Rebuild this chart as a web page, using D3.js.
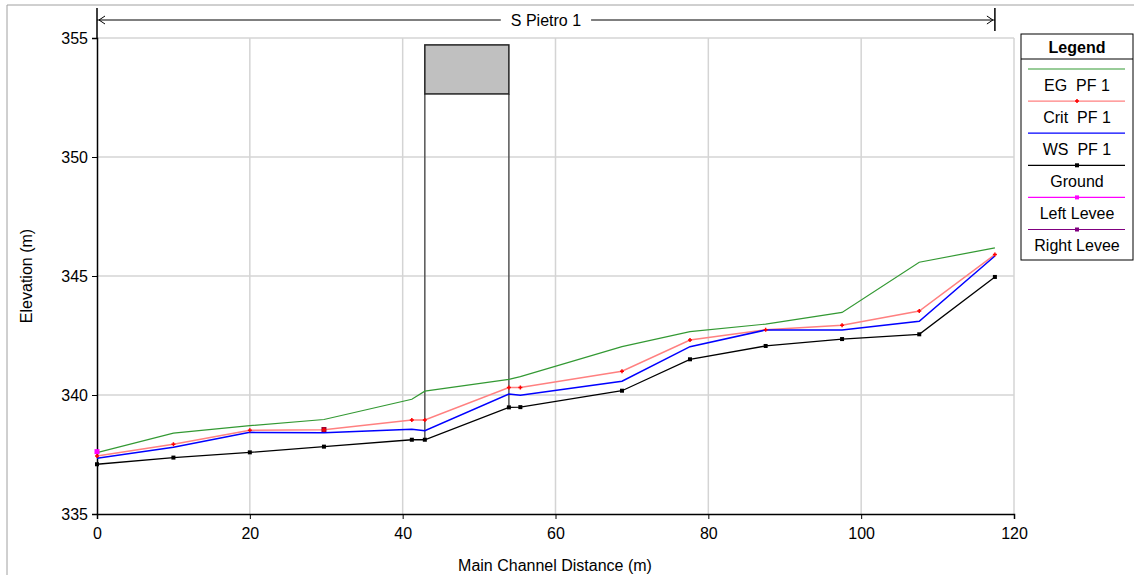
<!DOCTYPE html>
<html>
<head>
<meta charset="utf-8">
<script src="https://cdn.jsdelivr.net/npm/d3@7"></script>
<style>
  html, body { margin: 0; padding: 0; background: #fff; }
  svg { display: block; font-family: "Liberation Sans", Arial, sans-serif; }
  svg text { white-space: pre; }
</style>
</head>
<body>
<svg id="chart" width="1134" height="575"></svg>
<script>
// ---- data ----
const stations = [0, 10, 20, 29.7, 41.2, 42.9, 53.9, 55.4, 68.7, 77.6, 87.5, 97.5, 107.6, 117.5];
const ground   = [337.09, 337.37, 337.59, 337.83, 338.12, 338.12, 339.48, 339.49, 340.18, 341.50, 342.06, 342.35, 342.55, 344.96];
const wsPF1    = [337.34, 337.80, 338.43, 338.41, 338.56, 338.50, 340.04, 339.99, 340.58, 342.03, 342.73, 342.73, 343.10, 345.84];
const critPF1  = [337.44, 337.93, 338.52, 338.54, 338.95, 338.95, 340.31, 340.32, 341.00, 342.31, 342.74, 342.93, 343.53, 345.90];
const egPF1    = [337.58, 338.40, 338.71, 338.97, 339.82, 340.16, 340.66, 340.77, 342.03, 342.66, 342.98, 343.47, 345.58, 346.18];
const leftLevee  = [[0, 337.62]];
const rightLevee = [[29.7, 338.55]];
const bridgeStations = [42.9, 53.9];
const bridgeDeck = [352.65, 354.71];
const reachName = "S Pietro 1";
const reachStart = 0, reachEnd = 117.5;
const xTicks = [0, 20, 40, 60, 80, 100, 120];
const yTicks = [335, 340, 345, 350, 355];
const legendLabels = ["EG  PF 1", "Crit  PF 1", "WS  PF 1", "Ground", "Left Levee", "Right Levee"];

// ---- scales ----
const FS = 16;
const svg = d3.select("#chart");
const x = d3.scaleLinear().domain([0, 120]).range([97, 1014]);
const y = d3.scaleLinear().domain([335, 355]).range([514, 38]);

// outer frame
svg.append("line").attr("x1", 7).attr("x2", 7).attr("y1", 5).attr("y2", 575).attr("stroke", "#a0a0a0");
svg.append("line").attr("x1", 7).attr("x2", 1134).attr("y1", 5).attr("y2", 5).attr("stroke", "#a0a0a0");

// grid
const grid = svg.append("g").attr("stroke", "#d4d4d4").attr("stroke-width", 1.5);
xTicks.filter(d => d > 0).forEach(d => {
  grid.append("line").attr("x1", x(d)).attr("x2", x(d)).attr("y1", y(355)).attr("y2", y(335));
});
yTicks.filter(d => d > 335).forEach(d => {
  grid.append("line").attr("x1", x(0)).attr("x2", x(120)).attr("y1", y(d)).attr("y2", y(d));
});

// axes
const minorX = d3.range(0, 121, 4);
const minorY = d3.range(335, 356, 1);
const gx = svg.append("g").attr("transform", `translate(0,${y(335)})`);
gx.call(d3.axisBottom(x).tickValues(minorX).tickSize(3).tickFormat(""));
gx.call(d3.axisBottom(x).tickValues(xTicks).tickSize(5).tickPadding(9).tickFormat(d3.format("d")));
const gy = svg.append("g").attr("transform", `translate(${x(0)},0)`);
gy.call(d3.axisLeft(y).tickValues(minorY).tickSize(3).tickFormat(""));
gy.call(d3.axisLeft(y).tickValues(yTicks).tickSize(5).tickPadding(4).tickFormat(d3.format("d")));
svg.selectAll(".domain").attr("stroke", "#000").attr("stroke-width", 1.5);
svg.selectAll(".tick line").attr("stroke", "#000");
svg.selectAll(".tick text").attr("font-size", FS).attr("fill", "#000").attr("font-family", "Liberation Sans, Arial, sans-serif");
// extend y axis upward
svg.append("line").attr("x1", x(0)).attr("x2", x(0)).attr("y1", 8).attr("y2", y(355)).attr("stroke", "#000").attr("stroke-width", 1.5);

// axis titles
svg.append("text").attr("x", 555).attr("y", 571).attr("text-anchor", "middle").attr("font-size", FS).text("Main Channel Distance (m)");
svg.append("text").attr("transform", "translate(32,276) rotate(-90)").attr("text-anchor", "middle").attr("font-size", FS).text("Elevation (m)");

// reach annotation
const ay = 20;
svg.append("line").attr("x1", x(reachEnd)).attr("x2", x(reachEnd)).attr("y1", 8).attr("y2", 31).attr("stroke", "#000").attr("stroke-width", 1.5);
const mid = (x(reachStart) + x(reachEnd)) / 2;
const ttl = svg.append("text").attr("x", mid).attr("y", ay + 6).attr("text-anchor", "middle").attr("font-size", FS).text(reachName);
const tw = ttl.node().getComputedTextLength();
svg.append("line").attr("x1", x(reachStart)).attr("x2", mid - tw / 2 - 10).attr("y1", ay).attr("y2", ay).attr("stroke", "#000");
svg.append("line").attr("x1", mid + tw / 2 + 10).attr("x2", x(reachEnd)).attr("y1", ay).attr("y2", ay).attr("stroke", "#000");
svg.append("path").attr("d", `M${x(reachStart) + 8},${ay - 4} L${x(reachStart) + 2},${ay} L${x(reachStart) + 8},${ay + 4}`).attr("fill", "none").attr("stroke", "#000");
svg.append("path").attr("d", `M${x(reachEnd) - 8},${ay - 4} L${x(reachEnd) - 2},${ay} L${x(reachEnd) - 8},${ay + 4}`).attr("fill", "none").attr("stroke", "#000");

// bridge
const groundAt = s => ground[stations.indexOf(s)];
bridgeStations.forEach(s => {
  svg.append("line").attr("x1", x(s)).attr("x2", x(s)).attr("y1", y(bridgeDeck[0])).attr("y2", y(groundAt(s)))
    .attr("stroke", "#555").attr("stroke-width", 1.5);
});
svg.append("rect")
  .attr("x", x(bridgeStations[0])).attr("y", y(bridgeDeck[1]))
  .attr("width", x(bridgeStations[1]) - x(bridgeStations[0]))
  .attr("height", y(bridgeDeck[0]) - y(bridgeDeck[1]))
  .attr("fill", "#c0c0c0").attr("stroke", "#222").attr("stroke-width", 1.5);

// lines
const line = d3.line().x(d => x(d[0])).y(d => y(d[1]));
const pts = arr => stations.map((s, i) => [s, arr[i]]);
svg.append("path").datum(pts(egPF1)).attr("d", line).attr("fill", "none").attr("stroke", "#339933").attr("stroke-width", 1.2);
svg.append("path").datum(pts(critPF1)).attr("d", line).attr("fill", "none").attr("stroke", "#ff8080").attr("stroke-width", 1.5);
svg.append("path").datum(pts(wsPF1)).attr("d", line).attr("fill", "none").attr("stroke", "#0000ff").attr("stroke-width", 1.5);
svg.append("path").datum(pts(ground)).attr("d", line).attr("fill", "none").attr("stroke", "#000").attr("stroke-width", 1.3);

// markers
function square(g, cx, cy, color, s) {
  g.append("rect").attr("x", cx - s / 2).attr("y", cy - s / 2).attr("width", s).attr("height", s).attr("fill", color);
}
function plus(g, cx, cy, color) {
  g.append("path").attr("d", `M${cx - 2},${cy} H${cx + 2} M${cx},${cy - 2} V${cy + 2}`).attr("stroke", color).attr("stroke-width", 1.5);
}
const mk = svg.append("g");
pts(ground).forEach(d => square(mk, x(d[0]), y(d[1]), "#000", 4));
rightLevee.forEach(d => square(mk, x(d[0]), y(d[1]), "#990033", 5));
leftLevee.forEach(d => square(mk, x(d[0]), y(d[1]), "#ff00ff", 5));
pts(critPF1).forEach(d => plus(mk, x(d[0]), y(d[1]), "#ff0000"));

// legend
const lg = svg.append("g");
const lx0 = 1021, lx1 = 1133, ly0 = 34, ly1 = 260;
lg.append("rect").attr("x", lx0).attr("y", ly0).attr("width", lx1 - lx0).attr("height", ly1 - ly0).attr("fill", "#fff").attr("stroke", "#000");
lg.append("line").attr("x1", lx0).attr("x2", lx1).attr("y1", 59).attr("y2", 59).attr("stroke", "#000");
const lcx = (lx0 + lx1) / 2;
lg.append("text").attr("x", lcx).attr("y", 53).attr("text-anchor", "middle").attr("font-size", FS).attr("font-weight", "bold").text("Legend");
const legColors = ["#339933", "#ff8080", "#0000ff", "#000000", "#ff00ff", "#800080"];
legendLabels.forEach((lab, i) => {
  const ly = 69 + i * 32.1;
  lg.append("line").attr("x1", 1028).attr("x2", 1125).attr("y1", ly).attr("y2", ly).attr("stroke", legColors[i]).attr("stroke-width", 1.2);
  if (i === 1) plus(lg, lcx, ly, "#ff0000");
  if (i === 3) square(lg, lcx, ly, "#000", 4);
  if (i === 4) square(lg, lcx, ly, "#ff00ff", 4);
  if (i === 5) square(lg, lcx, ly, "#800080", 4);
  lg.append("text").attr("x", lcx).attr("y", ly + 21.5).attr("text-anchor", "middle").attr("font-size", FS).text(lab);
});
</script>
</body>
</html>
